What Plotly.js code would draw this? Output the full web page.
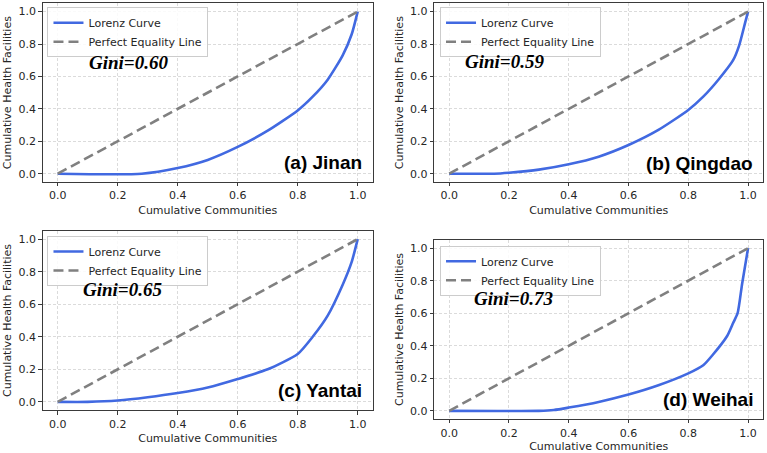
<!DOCTYPE html>
<html>
<head>
<meta charset="utf-8">
<script src="https://cdn.plot.ly/plotly-3.0.1.min.js"></script>
<style>
  html, body { margin: 0; padding: 0; background: #ffffff; }
  #chart { width: 767px; height: 453px; }
</style>
</head>
<body>
<div id="chart"></div>
<script>
// Lorenz curves of health-facility distribution across communities
const cities = ['Jinan', 'Qingdao', 'Yantai', 'Weihai'];
const panelTags = ['(a)', '(b)', '(c)', '(d)'];
const giniValues = [0.60, 0.59, 0.65, 0.73];

// cumulative share of communities (x) and of health facilities (y)
const jinanShare      = [0, 0.28, 0.40, 0.50, 0.60, 0.70, 0.80, 0.85, 0.90, 0.95, 0.98, 1.00];
const jinanFacilities = [0, 0.00, 0.035, 0.085, 0.165, 0.265, 0.39, 0.475, 0.58, 0.73, 0.86, 1.00];

const qingdaoShare      = [0, 0.15, 0.20, 0.30, 0.40, 0.50, 0.60, 0.70, 0.80, 0.85, 0.90, 0.95, 0.97, 0.99, 1.00];
const qingdaoFacilities = [0, 0.00, 0.006, 0.025, 0.058, 0.105, 0.177, 0.27, 0.393, 0.475, 0.578, 0.70, 0.79, 0.93, 1.00];

const yantaiShare      = [0, 0.10, 0.20, 0.30, 0.40, 0.50, 0.60, 0.70, 0.80, 0.85, 0.90, 0.95, 0.98, 1.00];
const yantaiFacilities = [0, 0.00, 0.008, 0.028, 0.054, 0.088, 0.14, 0.20, 0.294, 0.40, 0.53, 0.72, 0.86, 1.00];

const weihaiShare      = [0, 0.30, 0.35, 0.40, 0.50, 0.60, 0.70, 0.80, 0.85, 0.88, 0.93, 0.95, 0.965, 0.98, 1.00];
const weihaiFacilities = [0, 0.00, 0.005, 0.02, 0.055, 0.10, 0.157, 0.23, 0.28, 0.34, 0.46, 0.54, 0.60, 0.78, 1.00];

const equalityX = [0, 1];
const equalityY = [0, 1];

const tickVals = [0, 0.2, 0.4, 0.6, 0.8, 1.0];
const tickText = ['0.0', '0.2', '0.4', '0.6', '0.8', '1.0'];

const shares = [jinanShare, qingdaoShare, yantaiShare, weihaiShare];
const facilities = [jinanFacilities, qingdaoFacilities, yantaiFacilities, weihaiFacilities];

// panel geometry (paper fractions)
const xDomains = [[0.0557, 0.4859], [0.5662, 0.9948], [0.0557, 0.4859], [0.5662, 0.9948]];
const yDomains = [[0.5987, 0.9923], [0.5987, 0.9923], [0.0949, 0.4901], [0.0751, 0.4702]];
const legendPos = [[0.0619, 0.9839], [0.5737, 0.9839], [0.0619, 0.4790], [0.5737, 0.4576]];
const giniPos = [[0.098, 0.685], [0.046, 0.69], [0.076, 0.69], [0.077, 0.69]];
const labelPos = [[1.022, 0.068], [1.023, 0.064], [1.022, 0.072], [1.023, 0.072]];

const BLUE = '#4169E1';
const GREY = '#808080';
const AXIS = '#3a3a3a';
const TXT = '#262626';

const traces = [];
const layout = {
  width: 767,
  height: 453,
  margin: {l: 0, r: 0, t: 0, b: 0},
  paper_bgcolor: '#ffffff',
  plot_bgcolor: '#ffffff',
  font: {family: 'DejaVu Sans', size: 11, color: TXT},
  annotations: [],
  showlegend: true
};

cities.forEach((city, i) => {
  const n = i === 0 ? '' : String(i + 1);
  const xa = 'x' + n, ya = 'y' + n;
  const lg = 'legend' + n;

  traces.push({
    x: shares[i], y: facilities[i],
    xaxis: xa, yaxis: ya, legend: lg,
    type: 'scatter', mode: 'lines',
    name: 'Lorenz Curve',
    line: {color: BLUE, width: 2.6, shape: 'spline', smoothing: 0.6},
    hoverinfo: 'x+y'
  });
  traces.push({
    x: equalityX, y: equalityY,
    xaxis: xa, yaxis: ya, legend: lg,
    type: 'scatter', mode: 'lines',
    name: 'Perfect Equality Line',
    line: {color: GREY, width: 2.6, dash: '10px,5px'},
    hoverinfo: 'x+y'
  });

  const axisCommon = {
    range: [-0.05, 1.05],
    tickvals: tickVals,
    ticktext: tickText,
    ticks: 'outside',
    ticklen: 3.5,
    tickwidth: 1,
    tickcolor: AXIS,
    tickfont: {family: 'DejaVu Sans', size: 11, color: TXT},
    showline: true,
    mirror: true,
    linecolor: AXIS,
    linewidth: 1,
    showgrid: true,
    gridcolor: '#d2d2d2',
    gridwidth: 0.8,
    griddash: '3px,2px',
    zeroline: false,
    automargin: false,
    fixedrange: true
  };

  layout['xaxis' + n] = Object.assign({}, axisCommon, {
    domain: xDomains[i],
    anchor: ya,
    title: {text: 'Cumulative Communities', font: {family: 'DejaVu Sans', size: 11, color: TXT}, standoff: 4}
  });
  layout['yaxis' + n] = Object.assign({}, axisCommon, {
    domain: yDomains[i],
    anchor: xa,
    title: {text: 'Cumulative Health Facilities', font: {family: 'DejaVu Sans', size: 11, color: TXT}, standoff: 4}
  });

  layout[lg] = {
    x: legendPos[i][0], y: legendPos[i][1],
    xanchor: 'left', yanchor: 'top',
    bgcolor: 'rgba(255,255,255,0.85)',
    bordercolor: '#cccccc',
    borderwidth: 1,
    font: {family: 'DejaVu Sans', size: 11, color: TXT},
    tracegroupgap: 0
  };

  layout.annotations.push({
    xref: xa, yref: ya,
    x: giniPos[i][0], y: giniPos[i][1],
    xanchor: 'left', yanchor: 'middle',
    text: 'Gini=' + giniValues[i].toFixed(2),
    showarrow: false,
    font: {family: 'Liberation Serif', size: 19, color: '#000000', weight: 'bold', style: 'italic'}
  });
  layout.annotations.push({
    xref: xa, yref: ya,
    x: labelPos[i][0], y: labelPos[i][1],
    xanchor: 'right', yanchor: 'middle',
    text: panelTags[i] + ' ' + city,
    showarrow: false,
    font: {family: 'Liberation Sans', size: 19, color: '#000000', weight: 'bold'}
  });
});

Plotly.newPlot('chart', traces, layout, {displayModeBar: false, staticPlot: true});
</script>
</body>
</html>
